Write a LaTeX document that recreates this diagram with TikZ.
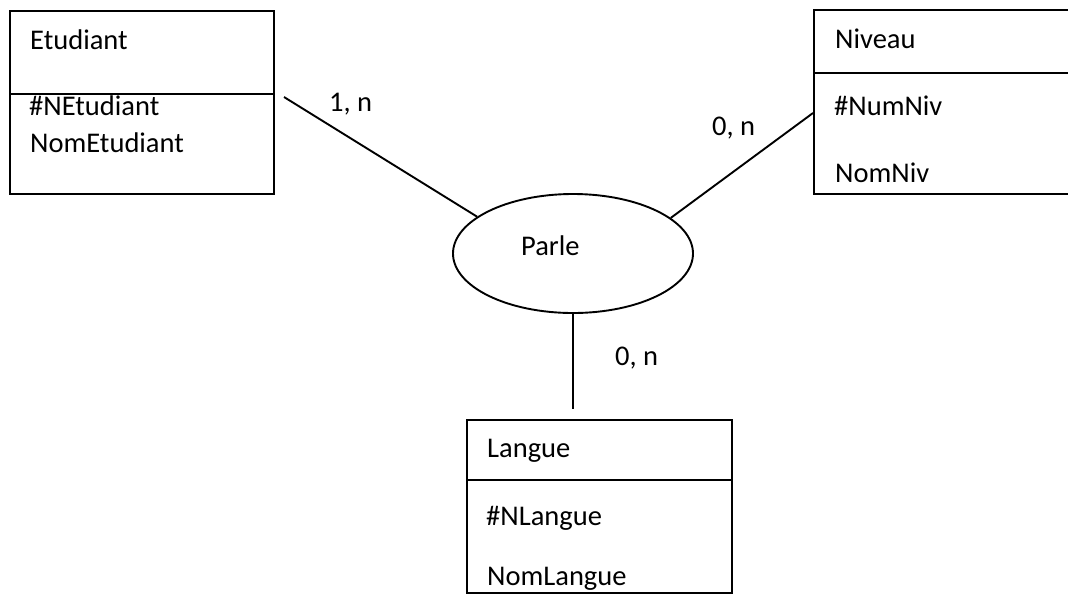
\documentclass[tikz,border=0pt]{standalone}
\usepackage{fontspec}
\setmainfont{Carlito}
\usetikzlibrary{shapes.geometric}
\begin{document}
\begin{tikzpicture}[x=1pt,y=-1pt,
  entity/.style={draw, line width=1.9pt, rectangle, anchor=north west, inner sep=0pt},
  relation/.style={draw, line width=1.9pt, ellipse, inner sep=0pt, minimum width=240pt, minimum height=119pt},
  lbl/.style={anchor=base west, inner sep=0pt, font=\fontsize{28.5}{34}\selectfont},
  ln/.style={line width=1.9pt}]
\useasboundingbox (0,0) rectangle (1068,606);

% entities
\node[entity, minimum width=264pt, minimum height=183pt] (etu) at (9,10) {};
\node[entity, minimum width=262pt, minimum height=184pt] (niv) at (813,9) {};
\node[entity, minimum width=265pt, minimum height=173pt] (lan) at (466,419) {};

% dividers
\draw[ln] ([yshift=-84pt]etu.north west) -- ([yshift=-84pt]etu.north east);
\draw[ln] ([yshift=-64pt]niv.north west) -- ([yshift=-64pt]niv.north east);
\draw[ln] ([yshift=-61pt]lan.north west) -- ([yshift=-61pt]lan.north east);

% relation
\node[relation] (parle) at (573,253.5) {};
\node[lbl] (parletxt) at (521,255) {Parle};

% texts
\node[lbl] (etut) at (30,49) {Etudiant};
\node[lbl] (etua) at (29,115) {\#NEtudiant};
\node[lbl] (etub) at (30,152) {NomEtudiant};

\node[lbl] (nivt) at (835,48) {Niveau};
\node[lbl] (niva) at (834,115) {\#NumNiv};
\node[lbl] (nivb) at (835,182) {NomNiv};

\node[lbl] (lant) at (487,457) {Langue};
\node[lbl] (lana) at (486,525) {\#NLangue};
\node[lbl] (lanb) at (487,585) {NomLangue};

% cardinalities
\node[lbl] (c1) at (329,111) {1, n};
\node[lbl] (c2) at (712,135) {0, n};
\node[lbl] (c3) at (615,365) {0, n};

% connectors
\coordinate (e1) at (284,97);
\draw[ln] (e1) -- (parle.159.4);
\draw[ln] (parle.20.4) -- ([yshift=-104pt]niv.north west);
\draw[ln, shorten >=10pt] (parle.south) -- (parle.south |- lan.north);
\end{tikzpicture}
\end{document}
